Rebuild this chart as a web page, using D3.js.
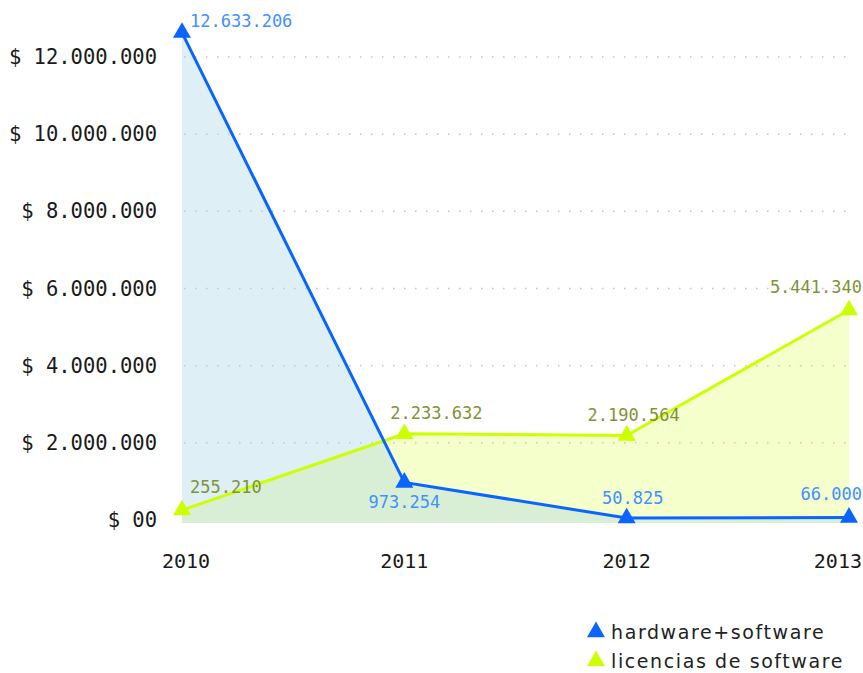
<!DOCTYPE html>
<html>
<head>
<meta charset="utf-8">
<script src="https://cdn.jsdelivr.net/npm/d3@7"></script>
<style>
  body { margin: 0; background: #fff; }
  svg { display: block; }
</style>
</head>
<body>
<div id="chart"></div>
<script>
// data
const years = ["2010", "2011", "2012", "2013"];
const hardwareSoftware = [12633206, 973254, 50825, 66000];
const licenciasSoftware = [255210, 2233632, 2190564, 5441340];
const seriesNames = ["hardware+software", "licencias de software"];
const yTicks = [0, 2000000, 4000000, 6000000, 8000000, 10000000, 12000000];
const yTickLabels = ["$ 00", "$ 2.000.000", "$ 4.000.000", "$ 6.000.000", "$ 8.000.000", "$ 10.000.000", "$ 12.000.000"];

const width = 863, height = 673;
const mono = "'DejaVu Sans Mono', monospace";

const svg = d3.select("#chart").append("svg")
  .attr("width", width)
  .attr("height", height);

const x = d3.scalePoint().domain(years).range([182, 849]);
const y = d3.scaleLinear().domain([0, 12000000]).range([520, 57]);

const fmt = v => d3.format(",")(v).replace(/,/g, ".");

// grid lines (dotted)
svg.append("g").selectAll("line")
  .data(yTicks.filter(d => d > 0))
  .enter().append("line")
  .attr("x1", x.range()[0] + 2)
  .attr("x2", x.range()[1] + 2)
  .attr("y1", d => y(d))
  .attr("y2", d => y(d))
  .attr("stroke", "#c4c4c4")
  .attr("stroke-width", 1.5)
  .attr("stroke-dasharray", "1.5,9.5");

// y labels
svg.append("g").selectAll("text")
  .data(yTicks)
  .enter().append("text")
  .attr("x", 157)
  .attr("y", d => y(d) + 7)
  .attr("text-anchor", "end")
  .attr("font-family", mono)
  .attr("font-size", 20.5)
  .attr("fill", "#1a1a1a")
  .text((d, i) => yTickLabels[i]);

// x labels, kept inside the picture
const xl = svg.append("g").selectAll("text")
  .data(years)
  .enter().append("text")
  .attr("y", 568)
  .attr("text-anchor", "middle")
  .attr("font-family", mono)
  .attr("font-size", 20)
  .attr("fill", "#1a1a1a")
  .text(d => d);
xl.each(function(d) {
  const w = this.getComputedTextLength();
  let cx = x(d);
  cx = Math.max(cx, 162 + w / 2);
  cx = Math.min(cx, width - 1 - w / 2);
  d3.select(this).attr("x", cx);
});

const series = [
  { name: seriesNames[0], values: hardwareSoftware, line: "#0a64ff", area: "lightblue", areaOpacity: 0.4, label: "#3f91ff" },
  { name: seriesNames[1], values: licenciasSoftware, line: "#ccff00", area: "#ccff00", areaOpacity: 0.2, label: "#7f9436" }
];

const area = d3.area()
  .x((d, i) => x(years[i]))
  .y0(y(0) + 3)
  .y1(d => y(d));
const line = d3.line()
  .x((d, i) => x(years[i]))
  .y(d => y(d));

// areas: yellow first, blue on top
[series[1], series[0]].forEach(s => {
  svg.append("path")
    .datum(s.values)
    .attr("d", area)
    .attr("fill", s.area)
    .attr("fill-opacity", s.areaOpacity);
});

// lines and markers: yellow first, blue on top
const tri = d3.symbol().type(d3.symbolTriangle).size(140);
[series[1], series[0]].forEach(s => {
  svg.append("path")
    .datum(s.values)
    .attr("d", line)
    .attr("fill", "none")
    .attr("stroke", s.line)
    .attr("stroke-width", 3);
  svg.append("g").selectAll("path")
    .data(s.values)
    .enter().append("path")
    .attr("d", tri)
    .attr("transform", (d, i) => `translate(${x(years[i])},${y(d)})`)
    .attr("fill", s.line);
});

// value labels
function placeLabel(si, i) {
  // shift and vertical offset per point so the labels don't run into lines
  if (si === 0 && i === 1) return { dx: 0, dy: 26 };
  if (si === 1 && i === 1) return { dx: 32, dy: -15 };
  if (si === 1 && i === 2) return { dx: 7, dy: -14 };
  if (si === 0 && i === 2) return { dx: 6, dy: -14 };
  if (si === 0 && i === 0) return { dx: 0, dy: -6 };
  return { dx: 0, dy: -17 };
}
series.forEach((s, si) => {
  svg.append("g").selectAll("text")
    .data(s.values)
    .enter().append("text")
    .attr("font-family", mono)
    .attr("font-size", 17)
    .attr("text-anchor", "middle")
    .attr("fill", s.label)
    .text(d => fmt(d))
    .each(function(d, i) {
      const p = placeLabel(si, i);
      const w = this.getComputedTextLength();
      let cx = x(years[i]) + p.dx;
      cx = Math.max(cx, 190 + w / 2);
      cx = Math.min(cx, width - 1 - w / 2);
      d3.select(this).attr("x", cx).attr("y", y(d) + p.dy);
    });
});

// legend
const legend = svg.append("g");
series.forEach((s, i) => {
  const ly = 632 + i * 29;
  legend.append("path")
    .attr("d", tri)
    .attr("transform", `translate(596,${ly})`)
    .attr("fill", s.line);
  legend.append("text")
    .attr("x", 611)
    .attr("y", ly + 7)
    .attr("font-family", "'DejaVu Sans', sans-serif")
    .attr("font-size", 19)
    .attr("letter-spacing", 1.6)
    .attr("fill", "#222")
    .text(s.name);
});
</script>
</body>
</html>
